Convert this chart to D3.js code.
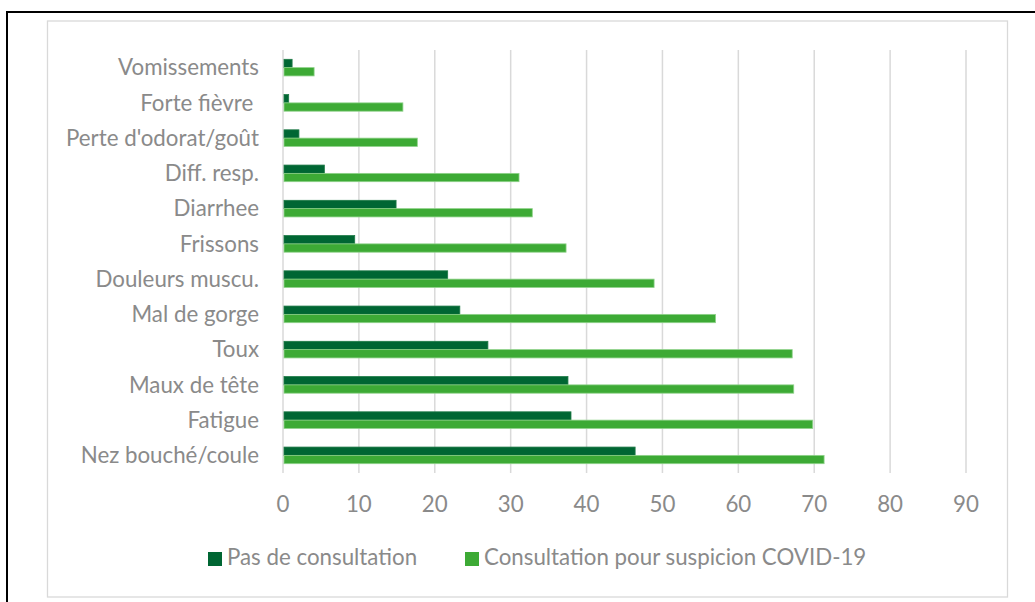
<!DOCTYPE html>
<html><head><meta charset="utf-8">
<script src="https://cdn.jsdelivr.net/npm/d3@7"></script>
<style>html,body{margin:0;padding:0;background:#fff;overflow:hidden}</style>
</head><body>
<svg id="c" width="1035" height="602"></svg>
<script>
const categories = ["Vomissements","Forte fièvre ","Perte d'odorat/goût","Diff. resp.","Diarrhee","Frissons","Douleurs muscu.","Mal de gorge","Toux","Maux de tête","Fatigue","Nez bouché/coule"];
const seriesNames = ["Pas de consultation","Consultation pour suspicion COVID-19"];
const pasConsultation = [1.2, 0.75, 2.1, 5.45, 14.9, 9.45, 21.7, 23.3, 27.0, 37.55, 37.95, 46.4];
const consultationCovid = [4.1, 15.8, 17.7, 31.1, 32.85, 37.3, 48.9, 57.0, 67.1, 67.3, 69.8, 71.3];
const xTicks = [0,10,20,30,40,50,60,70,80,90];

const colors = ["#006633", "#3DAA35"];
const strokes = ["#1f7a47", "#8fd28a"];
const textColor = "#8a8a8a";
const font = "Lato, 'Open Sans', sans-serif";
const fs = 22.3;

const svg = d3.select("#c");
// outer black frame
svg.append("rect").attr("x",7).attr("y",12).attr("width",1040).attr("height",600)
  .attr("fill","none").attr("stroke","#000").attr("stroke-width",2);
// chart area border
svg.append("rect").attr("x",47.5).attr("y",21).attr("width",960).attr("height",576)
  .attr("fill","#fff").attr("stroke","#d9d9d9").attr("stroke-width",1.3);

const x = d3.scaleLinear().domain([0,90]).range([283, 966]);
const y = d3.scaleBand().domain(categories).range([50, 473]).padding(0);
const ySub = d3.scaleBand().domain(seriesNames).range([0, y.bandwidth()]).paddingInner(0).paddingOuter(1.12);

// gridlines
svg.append("g").selectAll("line").data(xTicks).join("line")
  .attr("x1", d=>x(d)).attr("x2", d=>x(d)).attr("y1",50).attr("y2",473)
  .attr("stroke","#d9d9d9").attr("stroke-width",1.5);

// tick labels
svg.append("g").selectAll("text").data(xTicks).join("text")
  .attr("x", d=>x(d)).attr("y", 512).attr("text-anchor","middle")
  .attr("font-family",font).attr("font-size",fs).attr("fill",textColor)
  .text(d=>d);

// category labels
svg.append("g").selectAll("text").data(categories).join("text")
  .attr("x", 259).attr("y", d=>y(d)+y.bandwidth()/2).attr("dy","0.35em")
  .attr("text-anchor","end").attr("font-family",font).attr("font-size",fs).attr("fill",textColor)
  .style("white-space","pre").attr("xml:space","preserve")
  .text(d=>d);

const seriesData = [pasConsultation, consultationCovid];
seriesNames.forEach((s, si) => {
  svg.append("g").selectAll("rect").data(categories).join("rect")
    .attr("x", x(0)+1)
    .attr("y", c => y(c) + ySub(s))
    .attr("width", (c,i) => x(seriesData[si][i]) - x(0) - 1)
    .attr("height", ySub.bandwidth())
    .attr("fill", colors[si])
    .attr("stroke", strokes[si]).attr("stroke-width", 0.8);
});

// legend
const legX = [208, 465];
seriesNames.forEach((s, si) => {
  svg.append("rect").attr("x", legX[si]).attr("y", 552).attr("width",14).attr("height",14)
    .attr("fill", colors[si]);
  svg.append("text").attr("x", legX[si]+19).attr("y", 565)
    .attr("font-family",font).attr("font-size",fs).attr("fill",textColor).text(s);
});
</script>
</body></html>
